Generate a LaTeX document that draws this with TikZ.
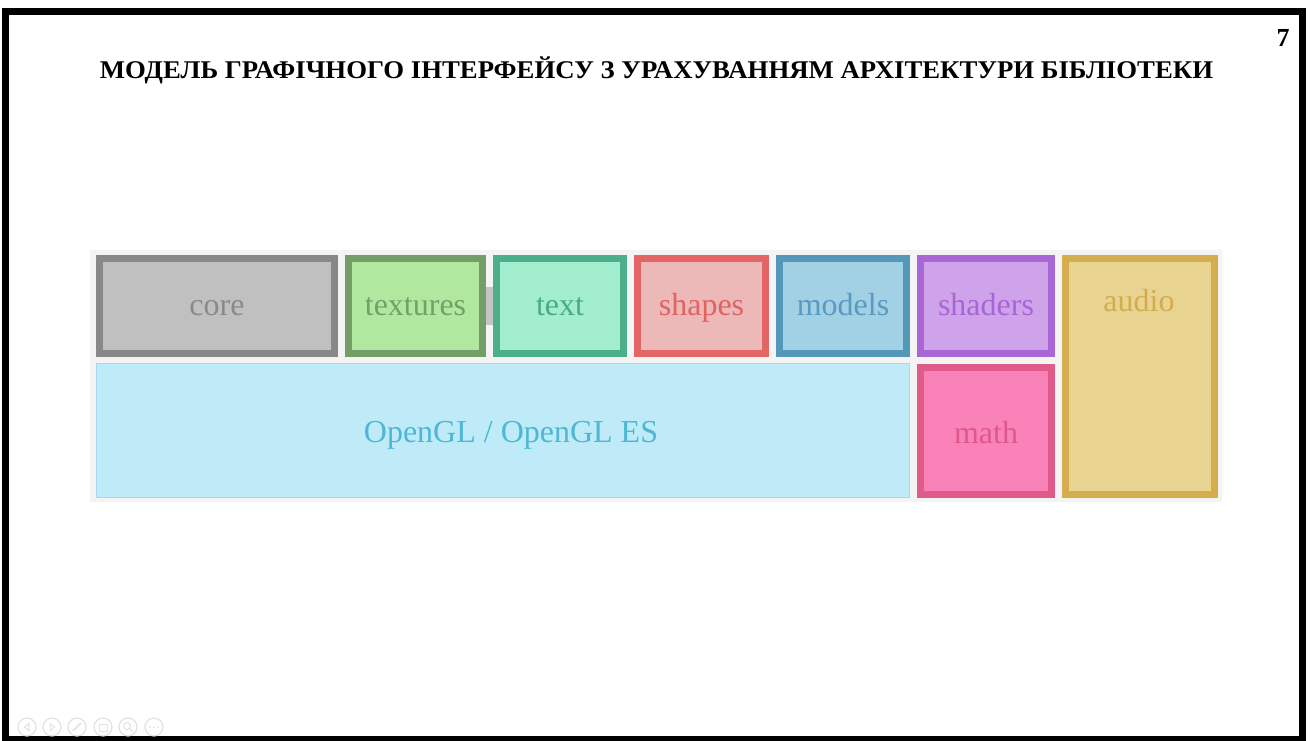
\documentclass[tikz,border=0pt]{standalone}
\usepackage{fontspec}
\setmainfont{Liberation Serif}
\usetikzlibrary{calc}
\definecolor{panelbg}{HTML}{F4F4F4}
\definecolor{conncol}{HTML}{C4C4C4}
\definecolor{coreF}{HTML}{C0C0C0}\definecolor{coreB}{HTML}{888888}\definecolor{coreT}{HTML}{8A8A8A}
\definecolor{texF}{HTML}{B1E8A0}\definecolor{texB}{HTML}{739E68}\definecolor{texT}{HTML}{74A068}
\definecolor{txtF}{HTML}{A3EECF}\definecolor{txtB}{HTML}{4AAF8A}\definecolor{txtT}{HTML}{4AAA85}
\definecolor{shpF}{HTML}{ECB8B8}\definecolor{shpB}{HTML}{E46565}\definecolor{shpT}{HTML}{E26262}
\definecolor{modF}{HTML}{A2D1E6}\definecolor{modB}{HTML}{5497B9}\definecolor{modT}{HTML}{5A9AC0}
\definecolor{shdF}{HTML}{CFA3EA}\definecolor{shdB}{HTML}{A866D6}\definecolor{shdT}{HTML}{A865D6}
\definecolor{mthF}{HTML}{F983B9}\definecolor{mthB}{HTML}{E05A8A}\definecolor{mthT}{HTML}{E0588A}
\definecolor{audF}{HTML}{E8D490}\definecolor{audB}{HTML}{D4AD4E}\definecolor{audT}{HTML}{D4AC50}
\definecolor{oglF}{HTML}{BFEAF8}\definecolor{oglB}{HTML}{A6D6F2}\definecolor{oglT}{HTML}{4DB8D4}
\definecolor{iconcol}{HTML}{E2E2E2}
\tikzset{
  modbox/.style n args={3}{draw=#2, fill=#1, text=#3, line width=7pt, inner sep=0pt,
     font=\fontsize{32}{36}\selectfont, text height=22pt, text depth=4pt},
  lbl/.style={font=\fontsize{32}{36}\selectfont, inner sep=0pt, text height=22pt, text depth=4pt},
  conn/.style={draw=conncol, line width=38pt, line cap=butt},
  icon/.style={draw=iconcol, line width=1.2pt, circle, minimum size=18pt, inner sep=0pt}
}
\begin{document}
\begin{tikzpicture}[x=1pt,y=-1pt]
\useasboundingbox (0,0) rectangle (1310,740);
\fill[white] (0,0) rectangle (1310,740);
% slide frame
\draw[black, line width=7pt] (5.5,11) rectangle (1302,739);
% title and page number
\node[font=\bfseries\fontsize{25.5}{28}\selectfont, inner sep=0pt] (title) at (656.5,70)
  {\scalebox{1.049}[1]{МОДЕЛЬ ГРАФІЧНОГО ІНТЕРФЕЙСУ З УРАХУВАННЯМ АРХІТЕКТУРИ БІБЛІОТЕКИ}};
\node[font=\bfseries\fontsize{26}{28}\selectfont, inner sep=0pt] (pagenum) at (1283,38) {7};
% panel
\fill[panelbg] (90,250) rectangle (1222,502);
% opengl base
\node[draw=oglB, fill=oglF, line width=1pt, inner sep=0pt,
      minimum width=813pt, minimum height=134pt] (opengl) at (503,430.5) {};
\node[lbl, text=oglT] (ogllbl) at (511,433) {OpenGL / OpenGL ES};
% modules
\node[modbox={coreF}{coreB}{coreT}, minimum width=235pt, minimum height=95pt] (core) at (217,306) {core};
\node[modbox={texF}{texB}{texT}, minimum width=134pt, minimum height=95pt] (textures) at (415.5,306) {textures};
\node[modbox={txtF}{txtB}{txtT}, minimum width=127pt, minimum height=95pt] (text) at (560,306) {text};
\node[modbox={shpF}{shpB}{shpT}, minimum width=128pt, minimum height=95pt] (shapes) at (701.5,306) {shapes};
\node[modbox={modF}{modB}{modT}, minimum width=127pt, minimum height=95pt] (models) at (843,306) {models};
\node[modbox={shdF}{shdB}{shdT}, minimum width=131pt, minimum height=95pt] (shaders) at (986,306) {shaders};
\node[modbox={mthF}{mthB}{mthT}, minimum width=131pt, minimum height=127pt, text height=26pt, text depth=2pt] (math) at (986,431) {math};
\node[modbox={audF}{audB}{audT}, minimum width=149pt, minimum height=236pt] (audio) at (1140,376.5) {};
\node[lbl, text=audT] (audiolbl) at (1139,302) {audio};
% connectors
\draw[conn] ($(core.south west)+(58,0)$) -- ($(core.south west)+(58,0)$ |- opengl.north);
\draw[conn] ($(core.south west)+(182,0)$) -- ($(core.south west)+(182,0)$ |- opengl.north);
\draw[conn] ($(textures.south)-(3.5,0)$) -- ($(textures.south)-(3.5,0)$ |- opengl.north);
\draw[conn] (textures.east) -- (text.west);
\draw[conn] ($(shapes.south)+(1,0)$) -- ($(shapes.south)+(1,0)$ |- opengl.north);
\draw[conn] ($(models.south)-(1,0)$) -- ($(models.south)-(1,0)$ |- opengl.north);
\draw[conn] ($(shaders.south)+(3.5,0)$) -- ($(shaders.south)+(3.5,0)$ |- math.north);
% toolbar icons
\node[icon] (ic1) at (27,727) {};
\node[icon] (ic2) at (52,727) {};
\node[icon] (ic3) at (77,727) {};
\node[icon] (ic4) at (103,727) {};
\node[icon] (ic5) at (128,727) {};
\node[icon] (ic6) at (154,727) {};
\draw[iconcol, line width=1pt] ($(ic1)+(2,-3.5)$) -- ($(ic1)+(-2.5,0)$) -- ($(ic1)+(2,3.5)$) -- cycle;
\draw[iconcol, line width=1pt] ($(ic2)+(-2,-3.5)$) -- ($(ic2)+(2.5,0)$) -- ($(ic2)+(-2,3.5)$) -- cycle;
\draw[iconcol, line width=1.5pt] ($(ic3)+(-4,4)$) -- ($(ic3)+(4,-4)$);
\draw[iconcol, line width=1pt] ($(ic4)+(-4,-3)$) rectangle ($(ic4)+(4,4)$);
\draw[iconcol, line width=1pt] ($(ic5)+(-1,-1)$) circle (3.5pt);
\draw[iconcol, line width=1.3pt] ($(ic5)+(1.5,1.5)$) -- ($(ic5)+(4.5,4.5)$);
\foreach \dx in {-4,0,4} \fill[iconcol] ($(ic6)+(\dx,0)$) circle (1pt);
\end{tikzpicture}
\end{document}
